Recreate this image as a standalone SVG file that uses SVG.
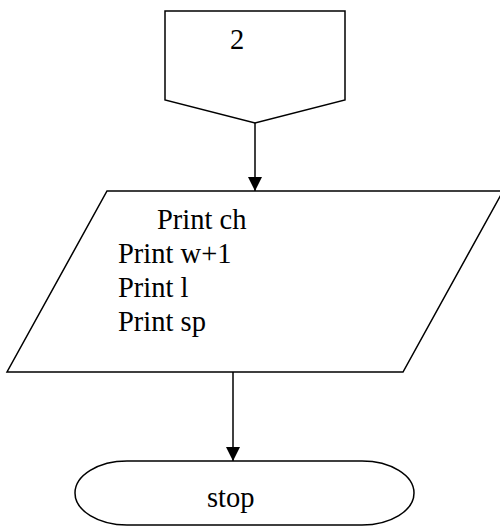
<svg xmlns="http://www.w3.org/2000/svg" width="500" height="527" viewBox="0 0 500 527">
<defs>
<style>
.s{fill:#fff;stroke:#000;stroke-width:1.5}
.t{font-family:"Liberation Serif","Times New Roman",serif;font-size:28.5px;fill:#000}
.c{stroke:#000;stroke-width:1.5;fill:none}
</style>
<marker id="ah" markerWidth="14" markerHeight="14" viewBox="0 0 14 14" refX="14" refY="7" orient="auto" markerUnits="userSpaceOnUse">
<path d="M0,0 L14,7 L0,14 Z" fill="#000"/>
</marker>
</defs>
<rect width="500" height="527" fill="#fff"/>
<g id="connector2">
<path class="s" d="M165,11 H345 V100 L255,123 L165,100 Z"/>
<text class="t" x="230" y="49">2</text>
</g>
<g id="output">
<path class="s" d="M107,191 H503 L403,372 H7 Z"/>
<text class="t" x="157" y="229">Print ch</text>
<text class="t" x="118" y="263">Print w+1</text>
<text class="t" x="118" y="297">Print l</text>
<text class="t" x="118" y="331">Print sp</text>
</g>
<g id="stop">
<path class="s" d="M127,461 H362 A52,32 0 0 1 362,525 H127 A52,32 0 0 1 127,461 Z"/>
<text class="t" x="207" y="507">stop</text>
</g>
<g id="connectors">
<line class="c" x1="255" y1="123" x2="255" y2="191" marker-end="url(#ah)"/>
<line class="c" x1="233" y1="372" x2="233" y2="461" marker-end="url(#ah)"/>
</g>
</svg>
